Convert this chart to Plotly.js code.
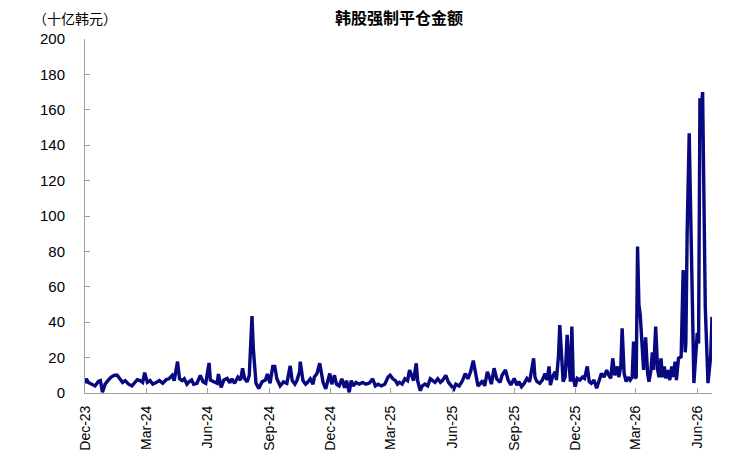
<!DOCTYPE html>
<html>
<head>
<meta charset="utf-8">
<script src="https://cdn.plot.ly/plotly-3.0.1.min.js"></script>
<style>
html,body{margin:0;padding:0;background:#fff;}
#chart{width:732px;height:453px;}
</style>
</head>
<body>
<div id="chart"></div>
<script>
const chartTitle = "韩股强制平仓金额";
const unitLabel = "（十亿韩元）";

const dates = [
"2023-12-01","2023-12-03","2023-12-06","2023-12-11","2023-12-16","2023-12-21","2023-12-24","2023-12-27","2023-12-31",
"2024-01-04","2024-01-09","2024-01-14","2024-01-18","2024-01-22","2024-01-26","2024-01-30",
"2024-02-04","2024-02-09","2024-02-14","2024-02-17","2024-02-21","2024-02-25","2024-02-28",
"2024-03-03","2024-03-07","2024-03-11","2024-03-16","2024-03-21","2024-03-26","2024-03-31",
"2024-04-04","2024-04-09","2024-04-12","2024-04-17","2024-04-20","2024-04-24","2024-04-27",
"2024-05-01","2024-05-04","2024-05-08","2024-05-11","2024-05-16","2024-05-21","2024-05-25","2024-05-29",
"2024-06-03","2024-06-05","2024-06-10","2024-06-15","2024-06-17","2024-06-21","2024-06-25","2024-06-30",
"2024-07-04","2024-07-07","2024-07-11","2024-07-16","2024-07-20","2024-07-23","2024-07-26","2024-07-30",
"2024-08-02","2024-08-06","2024-08-08","2024-08-12","2024-08-16","2024-08-21","2024-08-26","2024-08-29",
"2024-09-02","2024-09-06","2024-09-09","2024-09-12","2024-09-17","2024-09-22","2024-09-27",
"2024-10-02","2024-10-05","2024-10-09","2024-10-12","2024-10-16","2024-10-17","2024-10-21","2024-10-25","2024-10-28",
"2024-11-01","2024-11-05","2024-11-07","2024-11-11","2024-11-15","2024-11-17","2024-11-20","2024-11-24","2024-11-27","2024-11-30",
"2024-12-03","2024-12-07","2024-12-10","2024-12-14","2024-12-18","2024-12-22","2024-12-25","2024-12-29",
"2025-01-01","2025-01-04","2025-01-08","2025-01-13","2025-01-18","2025-01-23","2025-01-28",
"2025-02-02","2025-02-06","2025-02-10","2025-02-15","2025-02-20","2025-02-25","2025-02-28",
"2025-03-04","2025-03-08","2025-03-11","2025-03-14","2025-03-18","2025-03-22","2025-03-26","2025-03-29",
"2025-04-01","2025-04-04","2025-04-08","2025-04-10","2025-04-14","2025-04-17","2025-04-21","2025-04-25","2025-04-29",
"2025-05-03","2025-05-06","2025-05-10","2025-05-14","2025-05-17","2025-05-22","2025-05-26","2025-05-30",
"2025-06-03","2025-06-06","2025-06-11","2025-06-16","2025-06-20","2025-06-24","2025-06-28",
"2025-07-02","2025-07-06","2025-07-09","2025-07-12","2025-07-16","2025-07-19","2025-07-23","2025-07-26","2025-07-29",
"2025-08-02","2025-08-06","2025-08-11","2025-08-14","2025-08-19","2025-08-23","2025-08-27",
"2025-09-01","2025-09-05","2025-09-08","2025-09-12","2025-09-16","2025-09-20","2025-09-24","2025-09-27","2025-09-30",
"2025-10-02","2025-10-05","2025-10-09","2025-10-13","2025-10-17","2025-10-20","2025-10-23","2025-10-25","2025-10-28",
"2025-11-01","2025-11-03","2025-11-06","2025-11-08","2025-11-11","2025-11-13","2025-11-16","2025-11-19","2025-11-22","2025-11-24","2025-11-26","2025-11-28",
"2025-12-01","2025-12-04","2025-12-08","2025-12-12","2025-12-15","2025-12-19","2025-12-22","2025-12-25","2025-12-29",
"2026-01-02","2026-01-06","2026-01-09","2026-01-13","2026-01-17","2026-01-20","2026-01-23","2026-01-26","2026-01-29",
"2026-02-02","2026-02-04","2026-02-07","2026-02-09","2026-02-12","2026-02-15","2026-02-18","2026-02-21","2026-02-24","2026-02-26","2026-02-28",
"2026-03-02","2026-03-04","2026-03-06","2026-03-08","2026-03-11","2026-03-13","2026-03-16","2026-03-19","2026-03-21","2026-03-24","2026-03-26","2026-03-28","2026-03-31",
"2026-04-03","2026-04-05","2026-04-08","2026-04-10","2026-04-13","2026-04-15","2026-04-18","2026-04-21","2026-04-24","2026-04-26","2026-04-29",
"2026-05-01","2026-05-04","2026-05-08","2026-05-11","2026-05-14","2026-05-15","2026-05-17","2026-05-20","2026-05-27",
"2026-06-01","2026-06-03","2026-06-05","2026-06-07","2026-06-09","2026-06-13","2026-06-15","2026-06-17","2026-06-21","2026-06-23"
];

const amounts = [
5.5,8,6,5,4,6.5,7,0.5,5,
7,9,10,10,8,6,7,
5,4,6,7.5,7,6,11.5,
6,7,5,6,7,5.5,7.5,
8,10,7,17.7,8,7,8,
5,6.3,7.3,5,5.5,10,6.3,5.5,
17,7.3,6.3,5.5,10.7,3.2,7.3,8.2,
5.8,8,5.5,9,7.3,14,8.2,6.3,
10,43.5,25,5.5,2.6,6.3,7.3,10.7,
5.5,15,15,8.2,4,6.3,5.5,
15.3,7,5,7,12,17.7,7,5,6,
8,5,9,11,16.8,12,6,2.3,6,11,
5,10,5,4,8,3,7,0.4,
7,4,6,5,6,5,5.6,
8,4,5,4,5,9,10,
8,7,5,6,5,8,7,13,
10,7,16.8,7,1.3,4,5,4,8,
7,6,8,6,7,10,6,4,
2.3,5,4,7,11,8,12,
18.3,9,4,5,7,4,12,9,5,
14,8,6,10,13,7.3,4.5,
8.2,4.5,6.4,3.6,5.5,8.2,6.4,13,19.6,
9,6.4,5.5,7.3,11,7.3,15,4.5,9,
12,7.3,20.5,38.4,18.6,6.4,9,32.8,15,6.4,37.5,9,
3.6,8.2,7.3,9,8.2,15,6.4,5.5,7.3,
2.7,7.3,11,9,13,10,8.3,19.6,10,
15,9,15,36.5,11,6.4,9,7.3,9,29,8.3,
9,82.7,50,44,20,13,31.5,11,6.4,13,23,13,37.5,
13,9,19.6,9,15,8.3,13,7.3,15,9,17.7,
7.3,19.6,20.5,69.5,23,28,92,146.7,5.6,
34,28,166.5,160,170,48,30,5.6,20.5,43
];

const yTicks = [0,20,40,60,80,100,120,140,160,180,200];

const trace = {
  x: dates,
  y: amounts,
  type: "scatter",
  mode: "lines",
  line: {color: "rgb(8,8,128)", width: 3.4, shape: "linear"},
  hoverinfo: "x+y"
};

const axisGrey = "#a0a0a0";

const layout = {
  width: 732,
  height: 453,
  margin: {l: 85, r: 20, t: 39, b: 60, pad: 0},
  paper_bgcolor: "#ffffff",
  plot_bgcolor: "#ffffff",
  showlegend: false,
  title: {
    text: "<b>" + chartTitle + "</b>",
    font: {family: "Noto Sans CJK SC, sans-serif", size: 16, color: "#000"},
    x: 0.545, xanchor: "center",
    y: 0.96, yanchor: "middle"
  },
  xaxis: {
    type: "date",
    range: ["2023-12-01", "2026-06-23"],
    tick0: "2023-12-01",
    dtick: "M3",
    tickformat: "%b-%y",
    tickangle: -90,
    ticks: "inside",
    ticklen: 5,
    tickcolor: axisGrey,
    showline: true,
    linecolor: axisGrey,
    linewidth: 1,
    showgrid: false,
    zeroline: false,
    ticklabelstandoff: 6,
    tickfont: {family: "Liberation Sans, Arial, sans-serif", size: 14, color: "#000"}
  },
  yaxis: {
    range: [0, 200],
    tickvals: yTicks,
    ticktext: yTicks.map(String),
    ticks: "inside",
    ticklen: 5,
    tickcolor: axisGrey,
    showline: true,
    linecolor: axisGrey,
    linewidth: 1,
    showgrid: false,
    zeroline: false,
    ticklabelstandoff: 16,
    tickfont: {family: "Liberation Sans, Arial, sans-serif", size: 15, color: "#000"}
  },
  annotations: [{
    text: unitLabel,
    xref: "paper", yref: "paper",
    x: -0.086, y: 1.06,
    xanchor: "left", yanchor: "middle",
    showarrow: false,
    font: {family: "Noto Sans CJK SC, sans-serif", size: 14, color: "#000"}
  }]
};

Plotly.newPlot("chart", [trace], layout, {displayModeBar: false, staticPlot: true});
</script>
</body>
</html>
